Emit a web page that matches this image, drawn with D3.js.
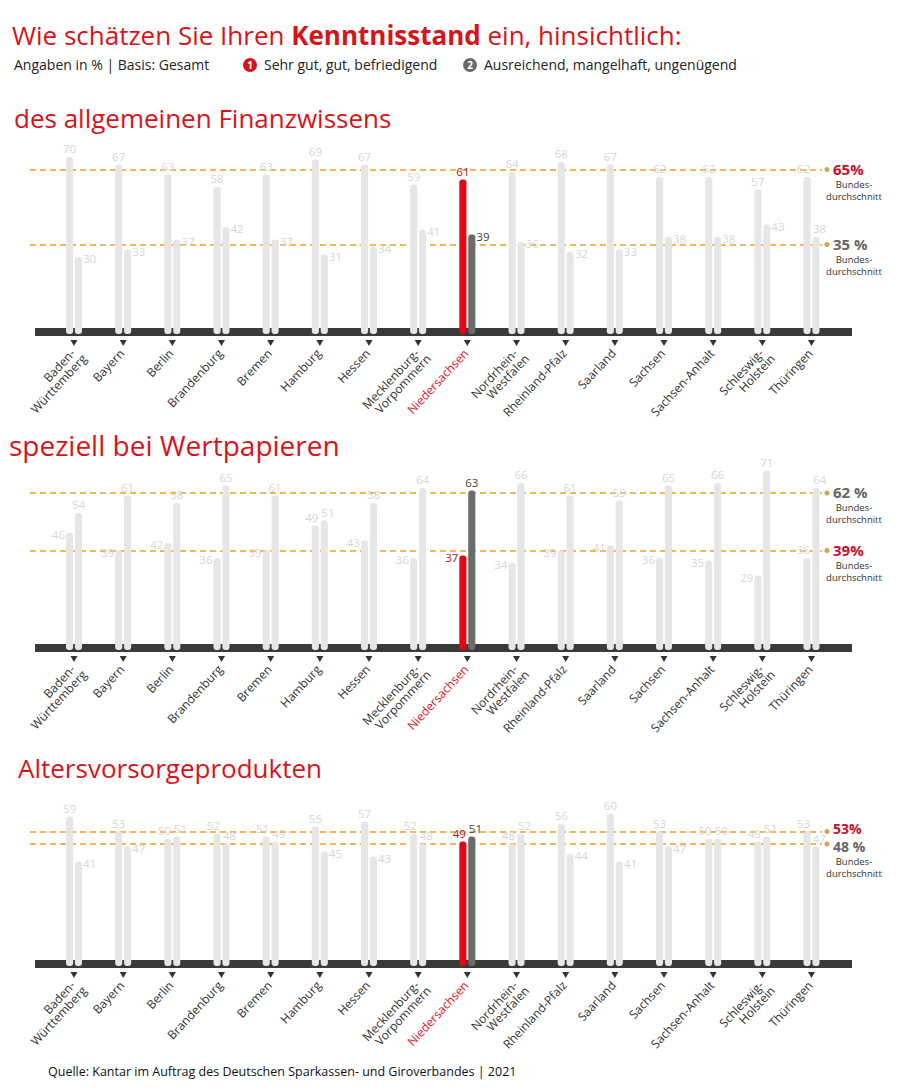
<!DOCTYPE html>
<html>
<head>
  <meta charset="utf-8">
  <script src="https://d3js.org/d3.v7.min.js"></script>
  <style>
  body { margin: 0; background: #fff; }
  * { font-family: "Open Sans", "Noto Sans", sans-serif; }
  </style>
</head>
<body>
<div id="chart"></div>
<script>
// data
const states = ["Baden-Württemberg", "Bayern", "Berlin", "Brandenburg", "Bremen", "Hamburg", "Hessen",
  "Mecklenburg-Vorpommern", "Niedersachsen", "Nordrhein-Westfalen", "Rheinland-Pfalz", "Saarland",
  "Sachsen", "Sachsen-Anhalt", "Schleswig-Holstein", "Thüringen"];
const stateLabels = ["Baden-|Württemberg", "Bayern", "Berlin", "Brandenburg", "Bremen", "Hamburg", "Hessen",
  "Mecklenburg-|Vorpommern", "Niedersachsen", "Nordrhein-|Westfalen", "Rheinland-Pfalz", "Saarland",
  "Sachsen", "Sachsen-Anhalt", "Schleswig-|Holstein", "Thüringen"];
const highlight = "Niedersachsen";

const panelTitles = ["des allgemeinen Finanzwissens", "speziell bei Wertpapieren", "Altersvorsorgeprodukten"];

const finanzGood = [70, 67, 63, 58, 63, 69, 67, 59, 61, 64, 68, 67, 62, 62, 57, 62];
const finanzBad  = [30, 33, 37, 42, 37, 31, 34, 41, 39, 36, 32, 33, 38, 38, 43, 38];
const wertGood   = [46, 39, 42, 36, 39, 49, 43, 36, 37, 34, 39, 41, 36, 35, 29, 36];
const wertBad    = [54, 61, 58, 65, 61, 51, 58, 64, 63, 66, 61, 59, 65, 66, 71, 64];
const altersGood = [59, 53, 50, 52, 51, 55, 57, 52, 49, 48, 56, 60, 53, 50, 49, 53];
const altersBad  = [41, 47, 51, 48, 49, 45, 43, 48, 51, 52, 44, 41, 47, 50, 51, 47];

const avgGood = [65, 39, 53];
const avgBad  = [35, 62, 48];

const goodSeries = [finanzGood, wertGood, altersGood];
const badSeries  = [finanzBad, wertBad, altersBad];

// layout
const W = 900, H = 1092;
const RED = "#e30613", DARKRED = "#b5121b", GREY = "#6b6b6b", LIGHT = "#e6e6e6", LABEL = "#d6d6d6";

const svg = d3.select("#chart").append("svg")
  .attr("width", W).attr("height", H);

// header
const title = svg.append("text").attr("x", 12).attr("y", 45)
  .attr("fill", "#d7141a").style("font-size", "26px");
title.append("tspan").text("Wie schätzen Sie Ihren ");
title.append("tspan").attr("font-weight", "bold").text("Kenntnisstand");
title.append("tspan").text(" ein, hinsichtlich:");

svg.append("text").attr("x", 14).attr("y", 70).style("font-size", "14px").attr("fill", "#222")
  .text("Angaben in % | Basis: Gesamt");

const legend = [{ n: "1", c: "#d7141a", t: "Sehr gut, gut, befriedigend", x: 250 },
                { n: "2", c: "#6b6b6b", t: "Ausreichend, mangelhaft, ungenügend", x: 470 }];
legend.forEach(function(l) {
  svg.append("circle").attr("cx", l.x).attr("cy", 65).attr("r", 7).attr("fill", l.c);
  svg.append("text").attr("x", l.x).attr("y", 69).attr("text-anchor", "middle")
    .attr("fill", "#fff").attr("font-weight", "bold").style("font-size", "10px").text(l.n);
  svg.append("text").attr("x", l.x + 14).attr("y", 70).style("font-size", "14px").attr("fill", "#222").text(l.t);
});

svg.append("text").attr("x", 48).attr("y", 1076).style("font-size", "12.5px").attr("fill", "#111")
  .text("Quelle: Kantar im Auftrag des Deutschen Sparkassen- und Giroverbandes | 2021");

// scales
const x = d3.scalePoint().domain(states).range([74, 811.5]);
const inner = d3.scaleBand().domain(["good", "bad"]).range([-8, 8]).paddingInner(0.2);
const bw = inner.bandwidth();

const zeros = [332, 648, 964];
const titleY = [128, 456, 778];
const titleX = [14, 9, 18];
const titleSize = [26, 28, 26];

panelTitles.forEach(function(pt, p) {
  const zero = zeros[p];
  const y = d3.scaleLinear().domain([0, 100]).range([zero, zero - 250]);
  const g = svg.append("g");

  g.append("text").attr("x", titleX[p]).attr("y", titleY[p])
    .attr("fill", "#d7141a").style("font-size", titleSize[p] + "px").text(pt);

  // base band
  g.append("rect").attr("x", 35).attr("y", zero - 4).attr("width", 817).attr("height", 8).attr("fill", "#3a3a3a");

  // average lines
  const avgs = [{ v: avgGood[p], k: "good" }, { v: avgBad[p], k: "bad" }];
  avgs.forEach(function(a) {
    const yy = Math.round(y(a.v));
    g.append("line").attr("x1", 30).attr("x2", 822)
      .attr("y1", yy).attr("y2", yy)
      .attr("stroke", "#f0a020").attr("stroke-width", 1.4).attr("stroke-dasharray", "6,4");
  });

  // bars
  const rows = states.map(function(s, i) {
    return { state: s, i: i, good: goodSeries[p][i], bad: badSeries[p][i] };
  });
  const pairs = g.selectAll("g.pair").data(rows).join("g")
    .attr("class", "pair").attr("transform", function(d) { return `translate(${x(d.state)},0)`; });

  ["good", "bad"].forEach(function(k) {
    pairs.append("rect")
      .attr("x", inner(k))
      .attr("y", function(d) { return y(d[k]); })
      .attr("width", bw)
      .attr("height", function(d) { return zero + 2 - y(d[k]); })
      .attr("rx", 3)
      .attr("fill", function(d) {
        if (d.state !== highlight) return LIGHT;
        return k === "good" ? RED : GREY;
      });
  });

  // value labels
  ["good", "bad"].forEach(function(k) {
    const other = k === "good" ? "bad" : "good";
    pairs.append("text")
      .style("font-size", "11.5px")
      .attr("fill", function(d) {
        if (d.state !== highlight) return LABEL;
        return k === "good" ? DARKRED : "#444";
      })
      .each(function(d) {
        const t = d3.select(this);
        const diff = d[k] - d[other];
        const left = inner(k), right = inner(k) + bw;
        if (Math.abs(diff) < 5 || d.i === states.length - 1) {
          // close values (or last pair next to the annotations): both above, pushed outward
          t.attr("x", k === "good" ? -1.5 : 1.5)
           .attr("text-anchor", k === "good" ? "end" : "start")
           .attr("y", y(d[k]) - 4);
        } else if (diff > 0) {
          t.attr("x", left + bw / 2).attr("text-anchor", "middle").attr("y", y(d[k]) - 4);
        } else {
          t.attr("x", k === "good" ? left - 1 : right + 1)
           .attr("text-anchor", k === "good" ? "end" : "start")
           .attr("y", y(d[k]) + 6);
        }
      })
      .text(function(d) { return d[k]; });
  });

  // ticks and state names
  pairs.append("path")
    .attr("d", `M-3.5,${zero + 8}L3.5,${zero + 8}L0,${zero + 14}Z`)
    .attr("fill", "#333");

  pairs.append("text")
    .attr("transform", `translate(2,${zero + 22}) rotate(-47)`)
    .attr("text-anchor", "end")
    .style("font-size", "12px")
    .attr("fill", function(d) { return d.state === highlight ? "#d7141a" : "#333"; })
    .each(function(d, i) {
      const lines = stateLabels[i].split("|");
      const t = d3.select(this);
      lines.forEach(function(line, j) {
        t.append("tspan").attr("x", j * 4).attr("dy", j === 0 ? 0 : 12).text(line);
      });
    });

  // average annotations
  const sorted = avgs.slice().sort(function(a, b) { return b.v - a.v; });
  const close = Math.abs(avgs[0].v - avgs[1].v) < 10;
  sorted.forEach(function(a, j) {
    const yy = y(a.v);
    const nudge = close ? (j === 0 ? -3 : 3) : 0;
    g.append("circle").attr("cx", 827).attr("cy", yy).attr("r", 2.5).attr("fill", "#d9a452");
    g.append("text").attr("x", 833).attr("y", yy + 5 + nudge)
      .attr("font-weight", "bold").style("font-size", close ? "14px" : "15px")
      .attr("fill", a.k === "good" ? "#c8102e" : "#666")
      .text(a.v + (a.k === "good" ? "%" : " %"));
    if (!close || j === 1) {
      g.append("text").attr("x", 854).attr("y", yy + 18 + nudge).attr("text-anchor", "middle")
        .style("font-size", "9.5px").attr("fill", "#333").text("Bundes-");
      g.append("text").attr("x", 854).attr("y", yy + 30 + nudge).attr("text-anchor", "middle")
        .style("font-size", "9.5px").attr("fill", "#333").text("durchschnitt");
    }
  });
});
</script>
</body>
</html>
